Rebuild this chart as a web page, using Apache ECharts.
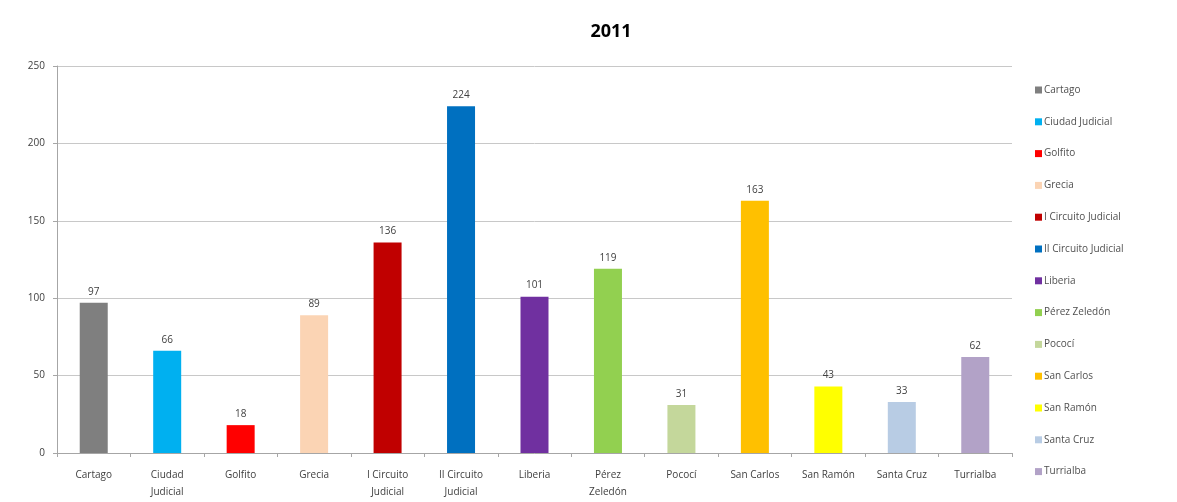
<!DOCTYPE html>
<html>
<head>
<meta charset="utf-8">
<script src="https://cdn.jsdelivr.net/npm/echarts@6/dist/echarts.min.js"></script>
<style>
  html, body { margin: 0; padding: 0; background: #fff; }
  #chart { width: 1177px; height: 502px; }
</style>
</head>
<body>
<div id="chart"></div>
<script>
// datos 2011
var categories = ['Cartago', 'Ciudad Judicial', 'Golfito', 'Grecia', 'I Circuito Judicial', 'II Circuito Judicial',
  'Liberia', 'Pérez Zeledón', 'Pococí', 'San Carlos', 'San Ramón', 'Santa Cruz', 'Turrialba'];
var axisLabels = ['Cartago', 'Ciudad\nJudicial', 'Golfito', 'Grecia', 'I Circuito\nJudicial', 'II Circuito\nJudicial',
  'Liberia', 'Pérez\nZeledón', 'Pococí', 'San Carlos', 'San Ramón', 'Santa Cruz', 'Turrialba'];
var values = [97, 66, 18, 89, 136, 224, 101, 119, 31, 163, 43, 33, 62];
var colors = ['#7f7f7f', '#00b0f0', '#ff0000', '#fbd4b4', '#c00000', '#0070c0',
  '#7030a0', '#92d050', '#c4d79b', '#ffc000', '#ffff00', '#b8cce4', '#b2a2c7'];
var yTicks = [0, 50, 100, 150, 200, 250];

var chart = echarts.init(document.getElementById('chart'));

// una serie por sede, apiladas para que cada barra quede centrada
var series = categories.map(function (name, i) {
  var data = values.map(function (v, j) { return j === i ? v : '-'; });
  return {
    name: name,
    type: 'bar',
    stack: 'total',
    barWidth: 28,
    data: data,
    itemStyle: { color: colors[i] },
    label: {
      show: true,
      position: 'top',
      distance: 6,
      color: '#404040',
      fontFamily: 'Open Sans',
      fontSize: 10
    }
  };
});

chart.setOption({
  animation: false,
  title: {
    text: '2011',
    left: 606,
    top: 18,
    textAlign: 'center',
    textStyle: { fontFamily: 'Open Sans', fontSize: 18, fontWeight: 'bold', color: '#000' }
  },
  legend: {
    orient: 'vertical',
    left: 1030,
    top: 80,
    itemWidth: 7,
    itemHeight: 7,
    itemGap: 21.8,
    icon: 'rect',
    textStyle: { fontFamily: 'Open Sans', fontSize: 10, color: '#505050', padding: [0, 0, 0, -3] },
    data: categories
  },
  grid: { left: 57, right: 165, top: 66, bottom: 49 },
  xAxis: {
    type: 'category',
    data: axisLabels,
    axisLine: { lineStyle: { color: '#a6a6a6' } },
    axisTick: { show: true, length: 4, lineStyle: { color: '#a6a6a6' } },
    axisLabel: { color: '#404040', fontFamily: 'Open Sans', fontSize: 10, margin: 14, lineHeight: 17, interval: 0 }
  },
  yAxis: {
    type: 'value',
    min: yTicks[0],
    max: yTicks[yTicks.length - 1],
    interval: 50,
    axisLine: { show: true, lineStyle: { color: '#a6a6a6' } },
    axisTick: { show: true, length: 4, lineStyle: { color: '#a6a6a6' } },
    axisLabel: { color: '#404040', fontFamily: 'Open Sans', fontSize: 10, margin: 12 },
    splitLine: { lineStyle: { color: '#c8c8c8', width: 1 } }
  },
  series: series
});
</script>
</body>
</html>
